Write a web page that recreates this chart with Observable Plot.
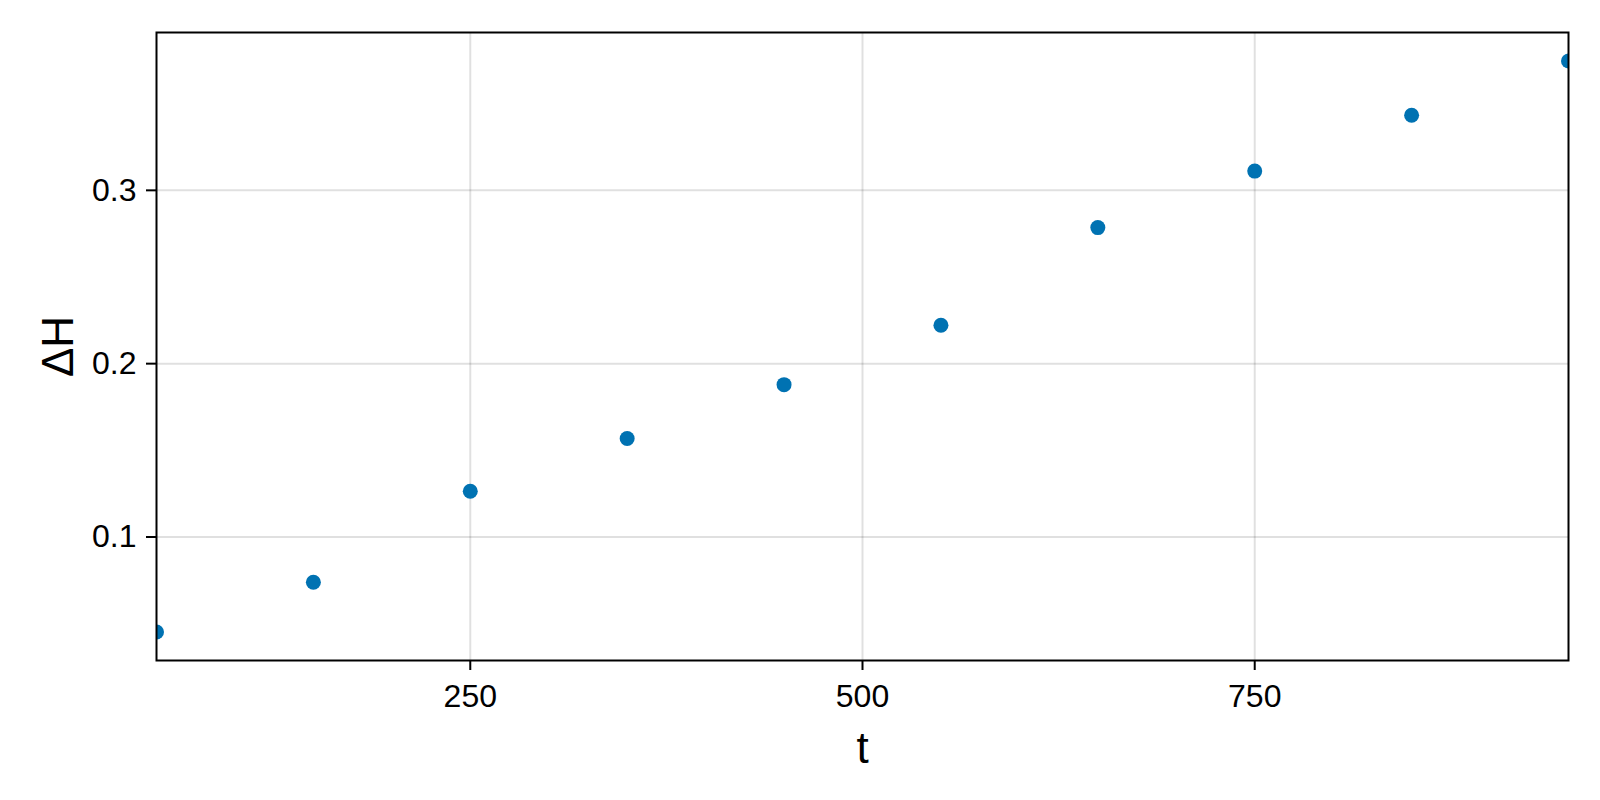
<!DOCTYPE html>
<html>
<head>
<meta charset="utf-8">
<script src="https://cdn.jsdelivr.net/npm/d3@7"></script>
<script src="https://cdn.jsdelivr.net/npm/@observablehq/plot@0.6"></script>
<style>
  html, body { margin: 0; padding: 0; background: white; }
  #chart svg { display: block; }
</style>
</head>
<body>
<div id="chart"></div>
<script>
// Data
const t = [50, 150, 250, 350, 450, 550, 650, 750, 850, 950];
const dH = [0.0452, 0.0739, 0.1264, 0.1568, 0.1879, 0.2222, 0.2785, 0.3111, 0.3433, 0.3746];
const xTicks = [250, 500, 750];
const yTicks = [0.1, 0.2, 0.3];
const xLabel = "t";
const yLabel = "ΔH";

const data = t.map((v, i) => ({t: v, dH: dH[i]}));

const [yMin, yMax] = d3.extent(dH);
const pad = (yMax - yMin) * 0.05;

const font = "'Liberation Sans', Arial, Helvetica, sans-serif";

const chart = Plot.plot({
  width: 1600,
  height: 800,
  marginLeft: 156,
  marginRight: 32,
  marginTop: 32,
  marginBottom: 140,
  style: {fontFamily: font, background: "white", color: "black"},
  x: {domain: d3.extent(t)},
  y: {domain: [yMin - pad, yMax + pad]},
  marks: [
    Plot.gridX(xTicks, {stroke: "black", strokeOpacity: 0.12, strokeWidth: 2}),
    Plot.gridY(yTicks, {stroke: "black", strokeOpacity: 0.12, strokeWidth: 2}),
    Plot.dot(data, {x: "t", y: "dH", r: 7.5, fill: "#0072B2", stroke: "none", clip: true}),
    Plot.frame({stroke: "black", strokeWidth: 2}),
    Plot.axisX(xTicks, {
      tickSize: 10, tickPadding: 14, fontSize: 32, strokeWidth: 2,
      tickFormat: d => String(d), label: null
    }),
    Plot.axisY(yTicks, {
      tickSize: 10, tickPadding: 10, fontSize: 32, strokeWidth: 2,
      tickFormat: d => d.toFixed(1), label: null
    }),
    Plot.text([xLabel], {
      text: d => d, frameAnchor: "bottom", lineAnchor: "bottom", textAnchor: "middle",
      dy: 102, fontSize: 44, fill: "black"
    }),
    Plot.text([yLabel], {
      text: d => d, frameAnchor: "left", lineAnchor: "bottom", textAnchor: "middle",
      dx: -84, rotate: -90, fontSize: 44, fill: "black"
    })
  ]
});

document.getElementById("chart").appendChild(chart);
</script>
</body>
</html>
